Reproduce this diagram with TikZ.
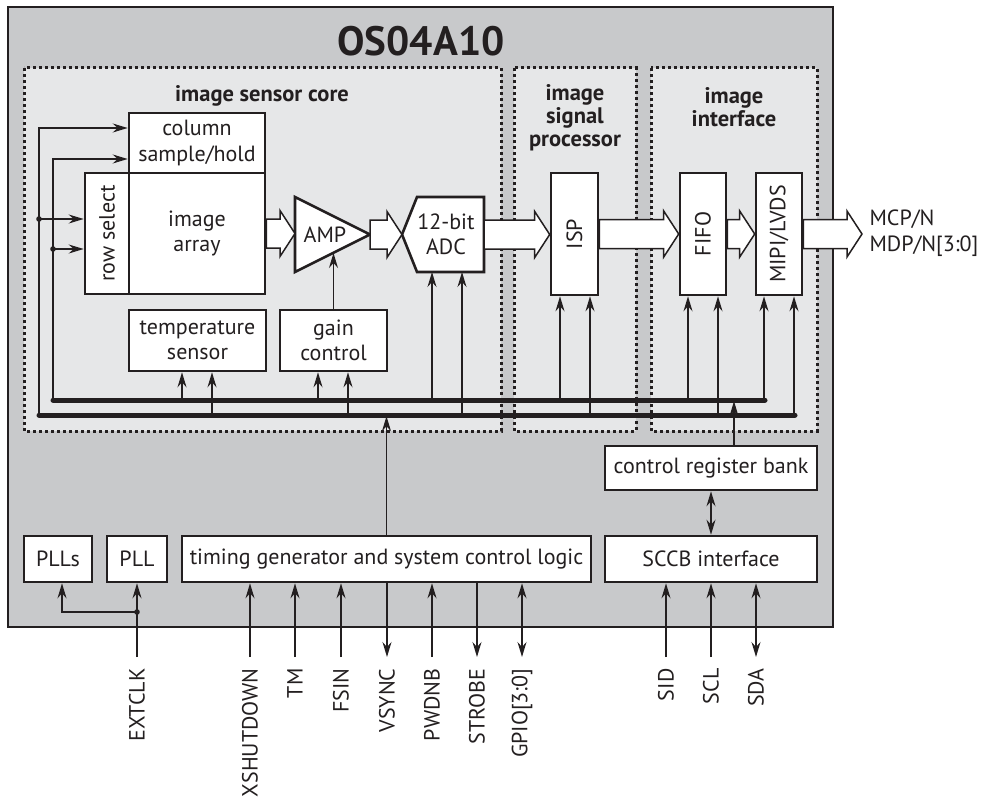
\documentclass[tikz,border=0pt]{standalone}
\usepackage{fontspec}
\setmainfont{PT Sans}
\usetikzlibrary{arrows.meta,calc}
\definecolor{chipgray}{RGB}{200,201,203}
\definecolor{coregray}{RGB}{230,231,232}
\definecolor{ink}{RGB}{35,31,32}

% hollow block arrow between two points, head 15 long
\newcommand\fatarrow[2]{%
  \draw[fat] let \p1=(#1), \p2=(#2) in
    (\x1,\y1+14.5pt) -- (\x2-15pt,\y1+14.5pt) -- (\x2-15pt,\y1+23pt) -- (\x2,\y1)
    -- (\x2-15pt,\y1-23pt) -- (\x2-15pt,\y1-14.5pt) -- (\x1,\y1-14.5pt) -- cycle;}

\begin{document}
\begin{tikzpicture}[x=1pt,y=-1pt,
  every node/.style={font=\fontsize{22}{25.5}\selectfont,text=ink,align=center},
  blk/.style={draw=ink,line width=2.6pt,fill=white,inner sep=0pt},
  region/.style={draw=ink,line width=3pt,dash pattern=on 3pt off 3pt,fill=coregray},
  sig/.style={draw=ink,line width=1.3pt},
  sigarrow/.style={-{Stealth[length=15pt,width=9pt,inset=5pt]}},
  sigback/.style={{Stealth[length=15pt,width=9pt,inset=5pt]}-},
  sigboth/.style={{Stealth[length=15pt,width=9pt,inset=5pt]}-{Stealth[length=15pt,width=9pt,inset=5pt]}},
  busline/.style={draw=ink,line width=5pt,line cap=round},
  fat/.style={draw=ink,line width=1.5pt,fill=white},
  pinlabel/.style={rotate=90,anchor=east},
  heading/.style={font=\fontsize{22.5}{23}\selectfont\bfseries}]
\useasboundingbox (0,0) rectangle (982,800);

% chip and regions
\draw[draw=ink,line width=2.2pt,fill=chipgray] (8,7) rectangle (833,627);
\node[font=\fontsize{41}{42}\selectfont\bfseries] (chip) at (421,41) {OS04A10};
\draw[region] (24,68) rectangle (501,431);
\draw[region] (514,68) rectangle (636,431);
\draw[region] (651,68) rectangle (817,431);
\node[heading] (core) at (262,96) {image sensor core};
\node[heading] (isptitle) at (575,118) {image\\signal\\processor};
\node[heading] (iftitle) at (734,107) {image\\interface};

% sensor core blocks
\node[blk,minimum width=136pt,minimum height=60pt] (col) at (197,143) {column\\sample/hold};
\node[blk,minimum width=44pt,minimum height=121pt] (rowsel) at (107,233.5) {};
\node[rotate=90] at (rowsel) {row select};
\node[blk,minimum width=136pt,minimum height=121pt] (array) at (197,233.5) {image\\array};
\node[blk,minimum width=137pt,minimum height=61pt] (temp) at (197.5,340.5) {temperature\\sensor};
\node[blk,minimum width=107pt,minimum height=61pt] (gain) at (333.5,340.5) {gain\\control};
\draw[blk] (295,197) -- (370,234.5) -- (295,272) -- cycle;
\node (amp) at (325,235) {AMP};
\draw[blk] (417,197) -- (484,197) -- (484,272) -- (417,272) -- (402,234.5) -- cycle;
\node (adc) at (446,234.5) {12-bit\\ADC};
\coordinate (ampL) at (295,234.5);
\coordinate (ampR) at (370,234.5);
\coordinate (adcL) at (402,234.5);
\coordinate (adcR) at (484,234.5);

% processor and interface blocks
\node[blk,minimum width=47pt,minimum height=122pt] (isp) at (574.5,234) {};
\node[rotate=90] at (isp) {ISP};
\node[blk,minimum width=46pt,minimum height=122pt] (fifo) at (703,234) {};
\node[rotate=90] at (fifo) {FIFO};
\node[blk,minimum width=46pt,minimum height=122pt] (mipi) at (779,234) {};
\node[rotate=90] at (mipi) {MIPI/LVDS};
\coordinate (out) at (862,234.5);
\node[anchor=west,align=left] (outlabel) at (866,233) {MCP/N\\MDP/N[3:0]};

% data path
\fatarrow{array.east}{ampL}
\fatarrow{ampR}{adcL}
\fatarrow{adcR}{isp.west}
\fatarrow{isp.east}{fifo.west}
\fatarrow{fifo.east}{mipi.west}
\fatarrow{mipi.east}{out}

% lower blocks
\node[blk,minimum width=212pt,minimum height=44pt] (creg) at (711,468) {control register bank};
\node[blk,minimum width=212pt,minimum height=46pt] (sccb) at (711,559) {SCCB interface};
\node[blk,minimum width=68pt,minimum height=46pt] (plls) at (58,559) {PLLs};
\node[blk,minimum width=60pt,minimum height=46pt] (pll) at (137,559) {PLL};
\node[blk,minimum width=409pt,minimum height=46pt] (timing) at (386.5,559) {timing generator and system control logic};

% control buses
\draw[busline] (53,400) -- (765,400);
\draw[busline] (39,415) -- (795,415);
\coordinate (j1) at (39,219);
\coordinate (j2) at (53,249);
\draw[sig,sigarrow] (39,415) |- ($(col.west)+(0,-15)$);
\draw[sig,sigarrow] (53,400) |- ($(col.west)+(0,16)$);
\draw[sig,sigarrow] (j1) -- (j1 -| rowsel.west);
\draw[sig,sigarrow] (j2) -- (j2 -| rowsel.west);
\fill[ink] (j1) circle (2.8pt);
\fill[ink] (j2) circle (2.8pt);
\foreach \x/\b/\n in {182/400/temp,212/415/temp,318/400/gain,348/415/gain,
                      560/400/isp,590/415/isp,688/400/fifo,718/415/fifo,764/400/mipi,794/415/mipi}
  \draw[sig,sigarrow] (\x,\b) coordinate (t) -- (t |- \n.south);
\draw[sig,sigarrow] (432,400) -- (432,272);
\draw[sig,sigarrow] (462,415) -- (462,272);
\draw[sig,sigarrow] (gain.north) -- (333.5,253);
\draw[sig,sigarrow] ($(creg.north)+(23,0)$) -- ++(0,-43.5);
\draw[sig,sigboth] (creg.south) -- (sccb.north);
\draw[sig,sigarrow] (timing.north) -- ++(0,-118.5);

% pins
\coordinate (clk) at (137,612);
\draw[sig,sigarrow] (137,657) -- (pll.south);
\draw[sig,sigarrow] (clk) -| ($(plls.south)+(4,0)$);
\fill[ink] (clk) circle (2.8pt);
\node[pinlabel] (extclk) at (137,665) {EXTCLK};
\foreach \x/\name/\dir in {250/XSHUTDOWN/sigarrow,295/TM/sigarrow,341/FSIN/sigarrow,
                           387/VSYNC/sigback,432/PWDNB/sigarrow,477/STROBE/sigback,522/GPIO[3:0]/sigboth}{
  \draw[sig,\dir] (\x,657) coordinate (p) -- (p |- timing.south);
  \node[pinlabel] at (\x,665) {\name};
}
\foreach \x/\name/\dir in {666/SID/sigarrow,711/SCL/sigarrow,756/SDA/sigboth}{
  \draw[sig,\dir] (\x,657) coordinate (p) -- (p |- sccb.south);
  \node[pinlabel] at (\x,665) {\name};
}
\end{tikzpicture}
\end{document}
